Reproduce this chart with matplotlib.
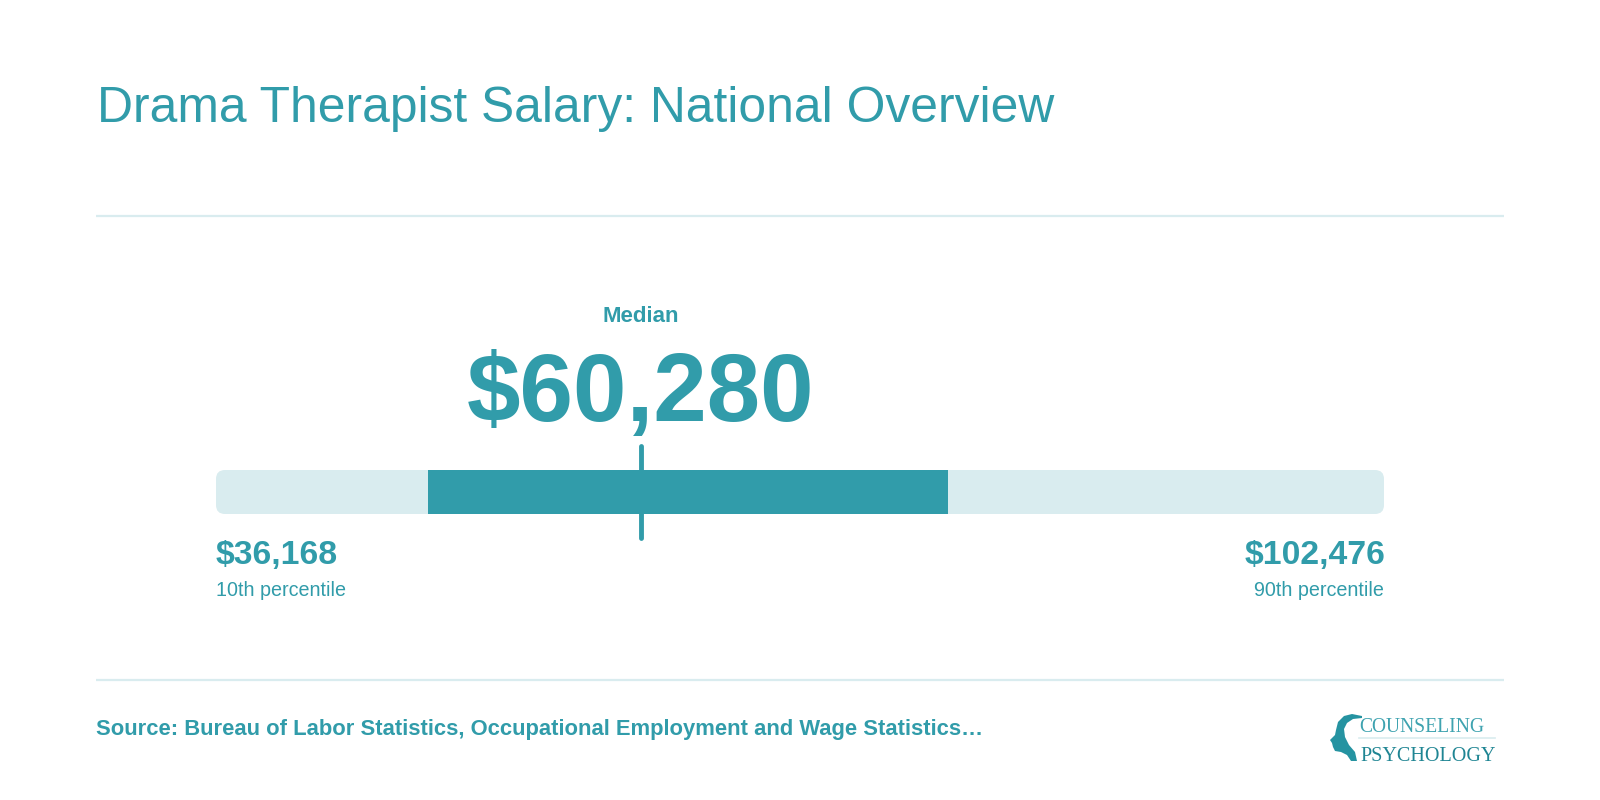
import matplotlib
matplotlib.use("Agg")
import matplotlib.pyplot as plt
from matplotlib.patches import FancyBboxPatch, Polygon

TITLE = "Drama Therapist Salary: National Overview"
SOURCE = "Source: Bureau of Labor Statistics, Occupational Employment and Wage Statistics…"
P10 = 36168
P25 = 48214
MEDIAN = 60280
P75 = 77700
P90 = 102476
P10_LABEL = "$36,168"
P90_LABEL = "$102,476"
MEDIAN_LABEL = "$60,280"

TEAL = "#319CAA"
LIGHT = "#D9ECEF"
W, H = 1600, 800
plt.rcParams["font.family"] = ["Liberation Sans", "DejaVu Sans"]

fig = plt.figure(figsize=(W / 100, H / 100), dpi=100, facecolor="white")

# pixel overlay for layout text
pg = fig.add_axes([0, 0, 1, 1])
pg.set_xlim(0, W)
pg.set_ylim(H, 0)
pg.axis("off")

# range bar axes: x is salary
bx0, bx1, by0, by1 = 216, 1384, 470, 514
ax = fig.add_axes([bx0 / W, 1 - by1 / H, (bx1 - bx0) / W, (by1 - by0) / H])
ax.set_xlim(P10, P90)
ax.set_ylim(0, 1)
ax.axis("off")
ax.patch.set_alpha(0)

upx = (P90 - P10) / (bx1 - bx0)
r = 9
bh = by1 - by0
ax.add_patch(FancyBboxPatch((P10, 0), P90 - P10, 1,
                            boxstyle=f"round,pad=0,rounding_size={r * upx}",
                            mutation_aspect=(r / bh) / (r * upx),
                            fc=LIGHT, ec="none", clip_on=False))
ax.barh(0.5, P75 - P25, left=P25, height=1, color=TEAL, linewidth=0)
ax.plot([MEDIAN, MEDIAN], [-23.5 / bh, 68.5 / bh], color=TEAL, lw=3.5,
        solid_capstyle="round", clip_on=False)

pg.plot([96, 1504], [216, 216], color=LIGHT, lw=1.6, solid_capstyle="butt")
pg.plot([96, 1504], [680, 680], color=LIGHT, lw=1.6, solid_capstyle="butt")

pg.text(97, 122, TITLE, color=TEAL, fontsize=35.8, va="baseline", ha="left")
pg.text(640.5, 322, "Median", color=TEAL, fontsize=16, fontweight="bold", va="baseline", ha="center")
pg.text(641, 421, MEDIAN_LABEL, color=TEAL, fontsize=69.2, fontweight="bold", va="baseline", ha="center")
pg.text(216, 564, P10_LABEL, color=TEAL, fontsize=24.3, fontweight="bold", va="baseline", ha="left")
pg.text(216, 596, "10th percentile", color=TEAL, fontsize=14.2, va="baseline", ha="left")
pg.text(1385, 564, P90_LABEL, color=TEAL, fontsize=24.3, fontweight="bold", va="baseline", ha="right")
pg.text(1384, 596, "90th percentile", color=TEAL, fontsize=14.2, va="baseline", ha="right")
pg.text(96, 735, SOURCE, color=TEAL, fontsize=15.8, fontweight="bold", va="baseline", ha="left")

# logo
pg.text(1359, 732, "COUNSELING", color="#3FA3B0", fontsize=14.1, family="Liberation Serif", va="baseline", ha="left")
pg.text(1360, 761, "PSYCHOLOGY", color="#1F8593", fontsize=14.5, family="Liberation Serif", va="baseline", ha="left")
pg.plot([1359, 1495], [737.5, 737.5], color=LIGHT, lw=1.2)
head = [(1362, 716), (1352, 714), (1344, 716), (1338, 722), (1336, 730), (1335, 735),
        (1330, 740), (1332, 743), (1333, 747), (1335, 751), (1341, 752), (1347, 755),
        (1351, 761), (1357, 761), (1355, 752), (1349, 745), (1345, 737), (1344, 729),
        (1347, 723), (1353, 719), (1362, 718)]
pg.add_patch(Polygon(head, closed=True, fc="#2593A1", ec="none"))

fig.savefig("out.png", dpi=100, facecolor="white")
